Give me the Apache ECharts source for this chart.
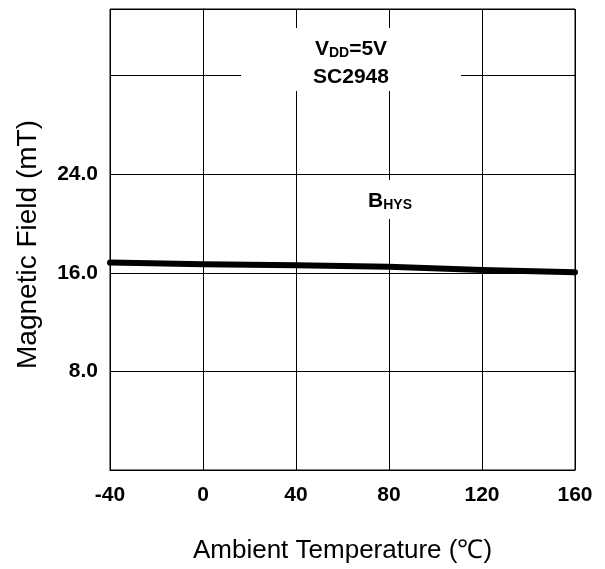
<!DOCTYPE html>
<html>
<head>
<meta charset="utf-8">
<script src="https://cdn.jsdelivr.net/npm/echarts@6/dist/echarts.min.js"></script>
<style>html,body{margin:0;padding:0;background:#fff;}#c{width:605px;height:569px;}</style>
</head>
<body>
<div id="c"></div>
<script>
var temperatures = [-40, 0, 40, 80, 120, 160];
var bHys = [16.83, 16.70, 16.62, 16.48, 16.22, 16.05];
var yTickLabels = [8, 16, 24];
var xTitle = 'Ambient Temperature (℃)';
var yTitle = 'Magnetic Field (mT)';

var FF = '"Liberation Sans", Arial, sans-serif';
var chart = echarts.init(document.getElementById('c'), null, {renderer: 'canvas'});
chart.setOption({
  animation: false,
  backgroundColor: '#fff',
  grid: {left: 110, top: 9, width: 465, height: 463, show: true, borderColor: '#000', borderWidth: 1, containLabel: false},
  xAxis: {
    type: 'value', min: -40, max: 160, interval: 40,
    name: xTitle, nameLocation: 'middle', nameGap: 68,
    nameTextStyle: {fontFamily: FF, fontSize: 26, color: '#000'},
    axisLine: {show: true, lineStyle: {color: '#000', width: 1}},
    axisTick: {show: false},
    axisLabel: {fontFamily: FF, fontSize: 21, fontWeight: 'bold', color: '#000', margin: 15},
    splitLine: {show: true, lineStyle: {color: '#000', width: 1}}
  },
  yAxis: {
    type: 'value', min: 0, max: 37.4, interval: 8,
    name: yTitle, nameLocation: 'middle', nameGap: 68,
    nameTextStyle: {fontFamily: FF, fontSize: 28, color: '#000', padding: [0, 10, 0, 0]},
    axisLine: {show: true, lineStyle: {color: '#000', width: 1}},
    axisTick: {show: false},
    axisLabel: {fontFamily: FF, fontSize: 21, fontWeight: 'bold', color: '#000', margin: 12,
      formatter: function (v) { return yTickLabels.indexOf(v) >= 0 ? v.toFixed(1) : ''; }},
    splitLine: {show: true, lineStyle: {color: '#000', width: 1}}
  },
  series: [{
    type: 'line', name: 'BHYS',
    data: temperatures.map(function (t, i) { return [t, bHys[i]]; }),
    showSymbol: false, symbol: 'none', smooth: false,
    lineStyle: {color: '#000', width: 6, cap: 'round', join: 'round'},
    z: 5
  }],
  graphic: [
    {type: 'rect', z: 50, shape: {x: 241, y: 28, width: 220, height: 63}, style: {fill: '#fff'}},
    {type: 'text', z: 51, x: 351, y: 60, style: {
      text: '{a|V}{b|DD}{a|=5V}\n{a|SC2948}',
      align: 'center', verticalAlign: 'middle', fill: '#000',
      rich: {
        a: {fontFamily: FF, fontSize: 21, fontWeight: 'bold', lineHeight: 28, verticalAlign: 'bottom'},
        b: {fontFamily: FF, fontSize: 14, fontWeight: 'bold', lineHeight: 28, verticalAlign: 'bottom'}
      }
    }},
    {type: 'rect', z: 50, shape: {x: 360, y: 180, width: 60, height: 39}, style: {fill: '#fff'}},
    {type: 'text', z: 51, x: 390, y: 199, style: {
      text: '{a|B}{b|HYS}',
      align: 'center', verticalAlign: 'middle', fill: '#000',
      rich: {
        a: {fontFamily: FF, fontSize: 21, fontWeight: 'bold', lineHeight: 26, verticalAlign: 'bottom'},
        b: {fontFamily: FF, fontSize: 14, fontWeight: 'bold', lineHeight: 26, verticalAlign: 'bottom'}
      }
    }}
  ]
});
</script>
</body>
</html>
